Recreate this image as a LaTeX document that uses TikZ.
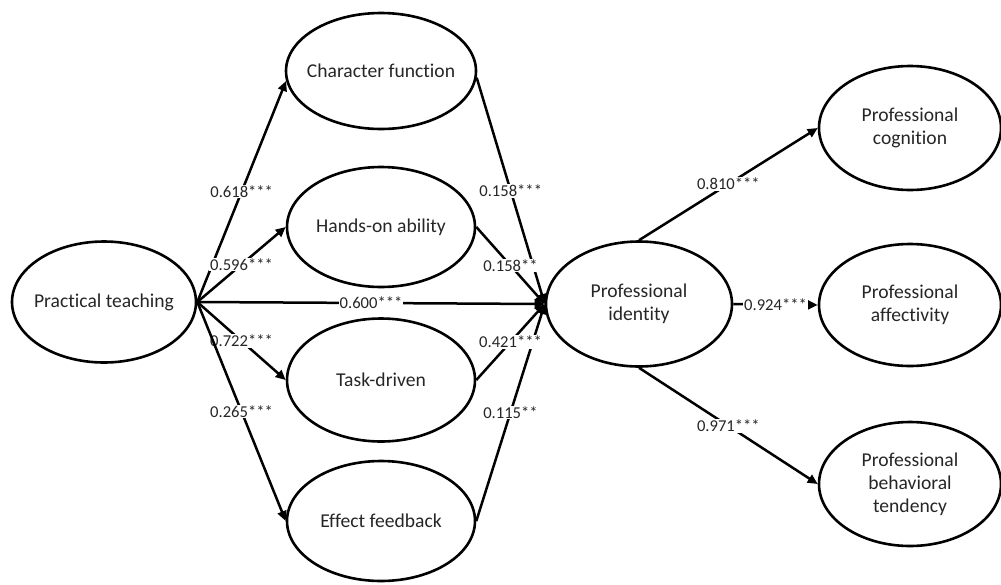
\documentclass[tikz,border=0pt]{standalone}
\usepackage{fontspec}
\setmainfont{Carlito}[Ligatures=NoCommon]
\usetikzlibrary{shapes.geometric,arrows.meta}
\begin{document}
\begin{tikzpicture}[x=1pt,y=-1pt,
  lat/.style={ellipse, draw, line width=2.6pt, inner ysep=0pt, inner xsep=-20pt, align=center,
    font=\fontsize{19.6}{23}\selectfont, text=black!85},
  arr/.style={line width=2.5pt, -{Triangle[length=10pt,width=9pt]}},
  elab/.style={fill=white, inner sep=1pt, font=\fontsize{16.6}{19}\selectfont, text=black!85, pos=0.5}]
\useasboundingbox (0,0) rectangle (1001,584);
\node[lat, minimum width=184pt, minimum height=121pt] (pt) at (104,302) {Practical teaching};
\node[lat, minimum width=190pt, minimum height=116pt] (cf) at (381,71) {Character function};
\node[lat, minimum width=188pt, minimum height=120pt] (ha) at (381,227) {Hands-on ability};
\node[lat, minimum width=188pt, minimum height=123pt] (td) at (381,380) {Task-driven};
\node[lat, minimum width=188pt, minimum height=120pt] (ef) at (381,521) {Effect feedback};
\node[lat, minimum width=186pt, minimum height=125pt] (pi) at (639,304) {Professional\\identity};
\node[lat, minimum width=182pt, minimum height=124pt] (pc) at (910,128) {Professional\\cognition};
\node[lat, minimum width=182pt, minimum height=122pt] (pa) at (910,305) {Professional\\affectivity};
\node[lat, minimum width=182pt, minimum height=124pt] (pbt) at (910,484) {Professional\\behavioral\\tendency};
\draw[arr] (pt.east) -- (cf.186) node[elab]{0.618***};
\draw[arr] (pt.east) -- (ha.west) node[elab]{0.596***};
\draw[arr] (pt.east) -- (td.west) node[elab]{0.722***};
\draw[arr] (pt.east) -- (ef.west) node[elab]{0.265***};
\draw[arr] (cf.-4) -- (pi.west) node[elab]{0.158***};
\draw[arr] (ha.east) -- (pi.west) node[elab]{0.158**};
\draw[arr] (ef.east) -- (pi.west) node[elab]{0.115**};
\draw[arr] (td.east) -- (pi.west) node[elab]{0.421***};
\draw[arr] (pt.east) -- (pi.west) node[elab]{0.600***};
\draw[arr] (pi.north) -- (pc.west) node[elab]{0.810***};
\draw[arr] (pi.east) -- (pa.west) node[elab]{0.924***};
\draw[arr] (pi.south) -- (pbt.west) node[elab]{0.971***};
\end{tikzpicture}
\end{document}
